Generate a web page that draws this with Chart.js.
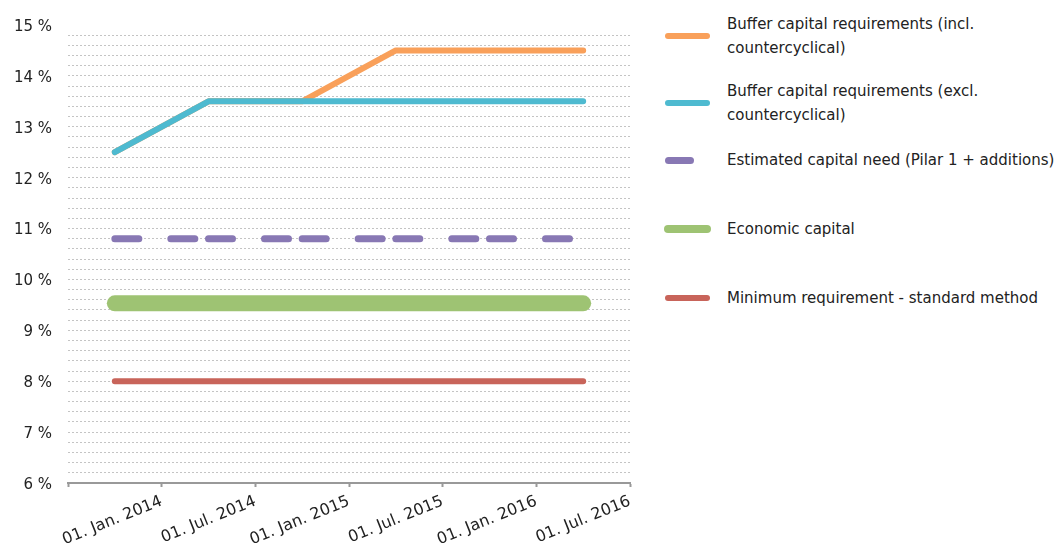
<!DOCTYPE html>
<html>
<head>
<meta charset="utf-8">
<script src="https://cdn.jsdelivr.net/npm/chart.js@4.4.1/dist/chart.umd.min.js"></script>
<style>
  body { margin: 0; background: #fff; width: 1056px; height: 547px; overflow: hidden; position: relative;
         font-family: "DejaVu Sans", sans-serif; color: #222; }
  #wrap { position: absolute; left: 0; top: 0; width: 650px; height: 547px; }
  #legend { position: absolute; left: 664px; top: 0; width: 392px; height: 547px; }
  .item { position: absolute; left: 0; display: flex; align-items: center; }
  .swbox { width: 47px; flex: none; display: flex; align-items: center; }
  .swatch { border-radius: 4px; }
  .label { margin-left: 16px; font-size: 15px; line-height: 24px; width: 334px; }
</style>
</head>
<body>
<div id="wrap"><canvas id="chart" width="650" height="547"></canvas></div>
<div id="legend"></div>
<script>
// tick labels sit on the boundaries, the observations sit between them
const tickLabels = ["", "01. Jan. 2014", "01. Jul. 2014", "01. Jan. 2015", "01. Jul. 2015", "01. Jan. 2016", "01. Jul. 2016"];
const periods = [0.5, 1.5, 2.5, 3.5, 4.5, 5.5];

const bufferIncl = [12.5, 13.5, 13.5, 14.5, 14.5, 14.5];
const bufferExcl = [12.5, 13.5, 13.5, 13.5, 13.5, 13.5];
const estimatedNeed = [10.8, 10.8, 10.8, 10.8, 10.8, 10.8];
const economicCapital = [9.53, 9.53, 9.53, 9.53, 9.53, 9.53];
const minimumReq = [8, 8, 8, 8, 8, 8];

const seriesNames = [
  "Buffer capital requirements (incl. countercyclical)",
  "Buffer capital requirements (excl. countercyclical)",
  "Estimated capital need (Pilar 1 + additions)",
  "Economic capital",
  "Minimum requirement - standard method",
];
const seriesColors = ["#f9a05a", "#4ebad0", "#8878b4", "#9ec373", "#c8645a"];

const toPoints = (values) => values.map((v, i) => ({ x: periods[i], y: v }));

Chart.defaults.font.family = "DejaVu Sans";
Chart.defaults.font.size = 15;
Chart.defaults.color = "#222";

let chartCanvas = document.querySelector("#chart");

new Chart(chartCanvas, {
  type: "line",
  data: {
    datasets: [
      { label: seriesNames[0], data: toPoints(bufferIncl), borderColor: seriesColors[0], borderWidth: 6, order: 1 },
      { label: seriesNames[1], data: toPoints(bufferExcl), borderColor: seriesColors[1], borderWidth: 6, order: 0 },
      {
        label: seriesNames[2], data: toPoints(estimatedNeed), borderColor: seriesColors[2], borderWidth: 7,
        borderDash: [24, 32],
        // excel restarts the dash at every point, so make each segment its own stroke
        segment: { borderDashOffset: (ctx) => (ctx.p0DataIndex % 2 ? 0.01 : 0) },
      },
      { label: seriesNames[3], data: toPoints(economicCapital), borderColor: seriesColors[3], borderWidth: 16 },
      { label: seriesNames[4], data: toPoints(minimumReq), borderColor: seriesColors[4], borderWidth: 6 },
    ].map((d) => ({ ...d, pointRadius: 0, tension: 0, borderCapStyle: "round", borderJoinStyle: "round", fill: false })),
  },
  options: {
    responsive: false,
    animation: false,
    layout: { padding: { top: 22, right: 20, left: 0, bottom: 0 } },
    plugins: { legend: { display: false }, tooltip: { enabled: false } },
    scales: {
      x: {
        type: "linear",
        min: 0,
        max: 6,
        ticks: {
          stepSize: 1,
          autoSkip: false,
          minRotation: 22,
          maxRotation: 22,
          padding: 5,
          font: { size: 16 },
          callback: (v) => tickLabels[Math.round(v)],
        },
        grid: { drawOnChartArea: false, drawTicks: true, tickLength: 4, tickColor: "#999", tickWidth: 2 },
        border: { display: true, color: "#999", width: 2 },
        afterFit: (scale) => { scale.height = 64; },
      },
      y: {
        min: 6,
        max: 15,
        ticks: {
          stepSize: 0.2,
          autoSkip: false,
          padding: 16,
          labelOffset: 2,
          callback: (v) => (Math.abs(v - Math.round(v)) < 1e-6 ? Math.round(v) + " %" : ""),
        },
        grid: {
          drawTicks: false,
          lineWidth: 1,
          color: (ctx) => (ctx.tick && ctx.tick.value > 14.9 ? "rgba(0,0,0,0)" : "#c4c4c4"),
        },
        border: { display: false, dash: [2, 2] },
        afterFit: (scale) => { scale.width = 68; },
      },
    },
  },
});

// legend on the right, built from the same names and colours
const legendTops = [12, 79, 148, 217, 286];
const swatchSizes = [[45, 6], [45, 6], [29, 7], [47, 8], [45, 6]];
const legendEl = document.querySelector("#legend");
seriesNames.forEach((name, i) => {
  const item = document.createElement("div");
  item.className = "item";
  item.style.top = legendTops[i] + "px";
  const box = document.createElement("div");
  box.className = "swbox";
  const sw = document.createElement("div");
  sw.className = "swatch";
  sw.style.background = seriesColors[i];
  sw.style.width = swatchSizes[i][0] + "px";
  sw.style.height = swatchSizes[i][1] + "px";
  sw.style.marginLeft = i === 3 ? "0px" : "1px";
  box.appendChild(sw);
  const lab = document.createElement("div");
  lab.className = "label";
  lab.textContent = name;
  item.appendChild(box);
  item.appendChild(lab);
  legendEl.appendChild(item);
});
</script>
</body>
</html>
